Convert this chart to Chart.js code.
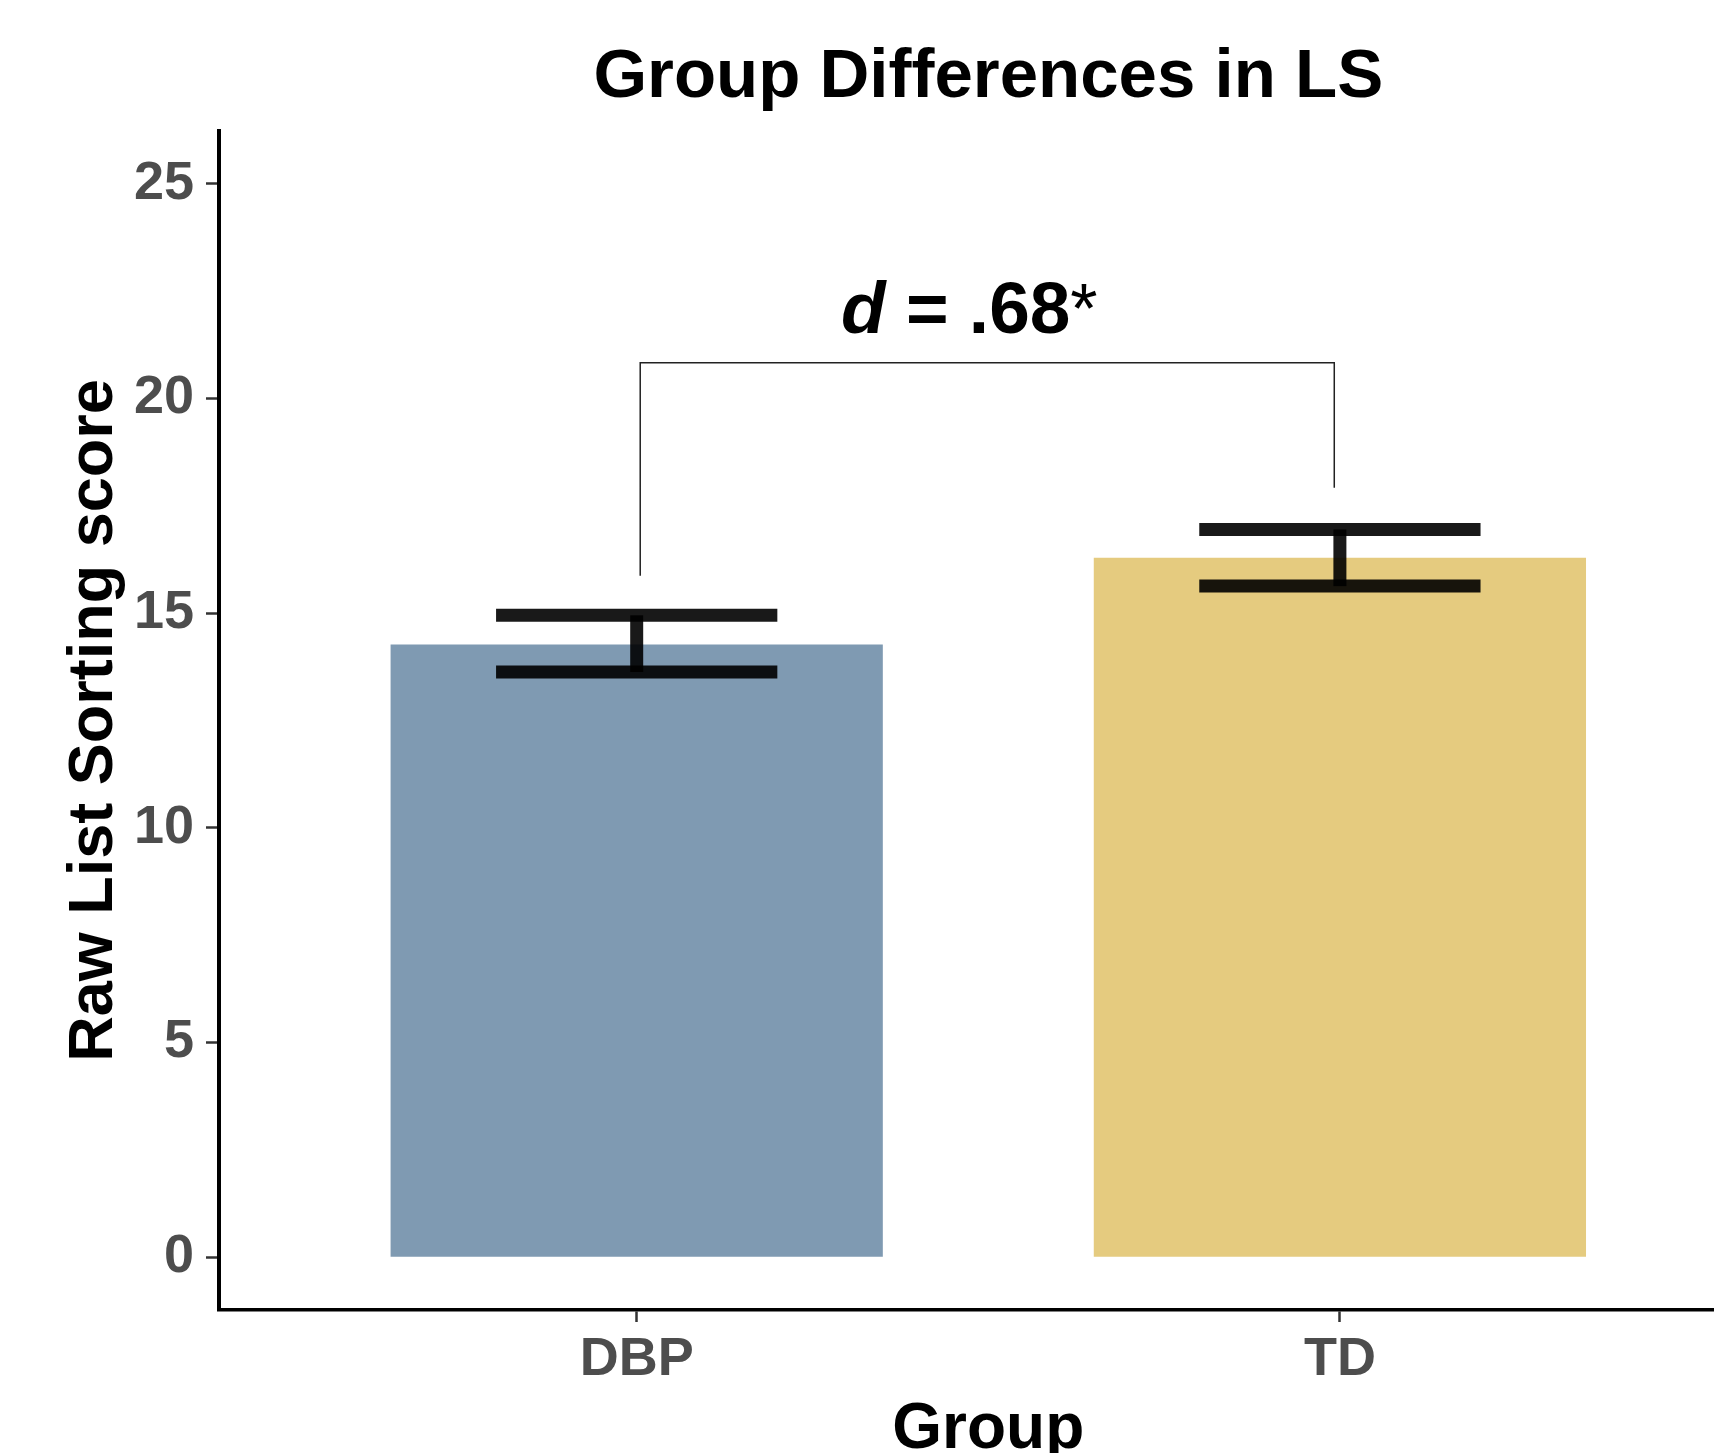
<!DOCTYPE html>
<html>
<head>
<meta charset="utf-8">
<script src="https://cdn.jsdelivr.net/npm/chart.js@4.4.1/dist/chart.umd.min.js"></script>
<style>
  html, body { margin: 0; padding: 0; background: #fff; overflow: hidden; }
  #chart { display: block; }
</style>
</head>
<body>
<canvas id="chart" width="1714" height="1453"></canvas>
<script>
const groups = ['DBP', 'TD'];
const groupPos = [1, 2];
const means = [14.27, 16.29];
const errLow = [13.63, 15.63];
const errHigh = [14.95, 16.95];
const barColors = ['#7f9ab2', '#e5cb7f'];
const yTicks = [0, 5, 10, 15, 20, 25];
const yRange = [-1.23, 26.23];
const xRange = [0.406, 2.532];
const capWidth = 0.4;

// significance bracket between the groups
const bracketX = [1.005, 1.992];
const bracketTop = 20.83;
const bracketLegs = [15.87, 17.92];
const effectText = ['d', ' = .68', '*'];
const effectAt = [1.473, 21.53];

const FONT = '"Liberation Sans", Arial, Helvetica, sans-serif';

const extras = {
  id: 'extras',
  afterDatasetsDraw(chart) {
    const { ctx, scales: { x, y } } = chart;
    ctx.save();

    // error bars: caps and stem drawn separately so overlaps darken
    ctx.strokeStyle = 'rgba(0,0,0,0.9)';
    ctx.lineWidth = 13;
    ctx.lineCap = 'butt';
    groupPos.forEach((g, i) => {
      const xl = x.getPixelForValue(g - capWidth / 2);
      const xr = x.getPixelForValue(g + capWidth / 2);
      const xc = x.getPixelForValue(g);
      const yh = y.getPixelForValue(errHigh[i]);
      const yl = y.getPixelForValue(errLow[i]);
      for (const yy of [yh, yl]) {
        ctx.beginPath();
        ctx.moveTo(xl, yy);
        ctx.lineTo(xr, yy);
        ctx.stroke();
      }
      ctx.beginPath();
      ctx.moveTo(xc, yh);
      ctx.lineTo(xc, yl);
      ctx.stroke();
    });

    // bracket
    ctx.strokeStyle = '#222';
    ctx.lineWidth = 1.5;
    ctx.beginPath();
    ctx.moveTo(x.getPixelForValue(bracketX[0]), y.getPixelForValue(bracketLegs[0]));
    ctx.lineTo(x.getPixelForValue(bracketX[0]), y.getPixelForValue(bracketTop));
    ctx.lineTo(x.getPixelForValue(bracketX[1]), y.getPixelForValue(bracketTop));
    ctx.lineTo(x.getPixelForValue(bracketX[1]), y.getPixelForValue(bracketLegs[1]));
    ctx.stroke();

    // effect size label
    const fonts = ['italic bold 73px ' + FONT, 'bold 73px ' + FONT, '70px ' + FONT];
    const widths = effectText.map((t, i) => {
      ctx.font = fonts[i];
      return ctx.measureText(t).width;
    });
    const total = widths.reduce((a, b) => a + b, 0);
    let cx = x.getPixelForValue(effectAt[0]) - total / 2;
    const by = y.getPixelForValue(effectAt[1]);
    ctx.fillStyle = '#000';
    ctx.textAlign = 'left';
    ctx.textBaseline = 'alphabetic';
    effectText.forEach((t, i) => {
      ctx.font = fonts[i];
      ctx.fillText(t, cx, by);
      cx += widths[i];
    });

    ctx.restore();
  },
  afterDraw(chart) {
    const { ctx, chartArea, scales: { x } } = chart;
    const mid = x.getPixelForValue((groupPos[0] + groupPos[1]) / 2);
    ctx.save();
    ctx.fillStyle = '#000';
    ctx.textAlign = 'center';
    ctx.textBaseline = 'alphabetic';
    ctx.font = 'bold 69px ' + FONT;
    ctx.fillText('Group Differences in LS', mid, chartArea.top - 34);
    ctx.font = 'bold 64px ' + FONT;
    ctx.fillText('Group', mid, chart.height - 5);
    ctx.restore();
  }
};

new Chart(document.getElementById('chart'), {
  type: 'bar',
  data: {
    datasets: [{
      data: groupPos.map((g, i) => ({ x: g, y: means[i] })),
      backgroundColor: barColors,
      borderWidth: 0,
      barPercentage: 0.7,
      categoryPercentage: 1.0
    }]
  },
  options: {
    responsive: false,
    animation: false,
    devicePixelRatio: 1,
    layout: { padding: { top: 131, left: 0, right: 0, bottom: 0 } },
    plugins: {
      legend: { display: false },
      tooltip: { enabled: false },
      title: { display: false }
    },
    scales: {
      x: {
        type: 'linear',
        min: xRange[0],
        max: xRange[1],
        offset: false,
        afterBuildTicks: s => { s.ticks = groupPos.map(v => ({ value: v })); },
        afterFit: s => { s.height = 143; },
        ticks: {
          autoSkip: false,
          maxRotation: 0,
          padding: 6,
          color: '#4d4d4d',
          font: { family: FONT, size: 54, weight: 'bold', lineHeight: 1.2 },
          callback: v => groups[groupPos.indexOf(v)] ?? ''
        },
        grid: {
          offset: false,
          drawOnChartArea: false,
          drawTicks: true,
          tickLength: 12,
          tickColor: '#333',
          tickWidth: 2.5
        },
        border: { display: true, color: '#000', width: 3.5 }
      },
      y: {
        type: 'linear',
        min: yRange[0],
        max: yRange[1],
        afterBuildTicks: s => { s.ticks = yTicks.map(v => ({ value: v })); },
        afterFit: s => { s.width = 219; },
        ticks: {
          autoSkip: false,
          padding: 12,
          color: '#4d4d4d',
          font: { family: FONT, size: 54, weight: 'bold', lineHeight: 1.2 },
          callback: v => String(v)
        },
        grid: {
          drawOnChartArea: false,
          drawTicks: true,
          tickLength: 13,
          tickColor: '#333',
          tickWidth: 2.5
        },
        border: { display: true, color: '#000', width: 4 },
        title: {
          display: true,
          text: 'Raw List Sorting score',
          color: '#000',
          padding: { top: 57, bottom: 0 },
          font: { family: FONT, size: 63, weight: 'bold', lineHeight: 1.2 }
        }
      }
    }
  },
  plugins: [extras]
});
</script>
</body>
</html>
